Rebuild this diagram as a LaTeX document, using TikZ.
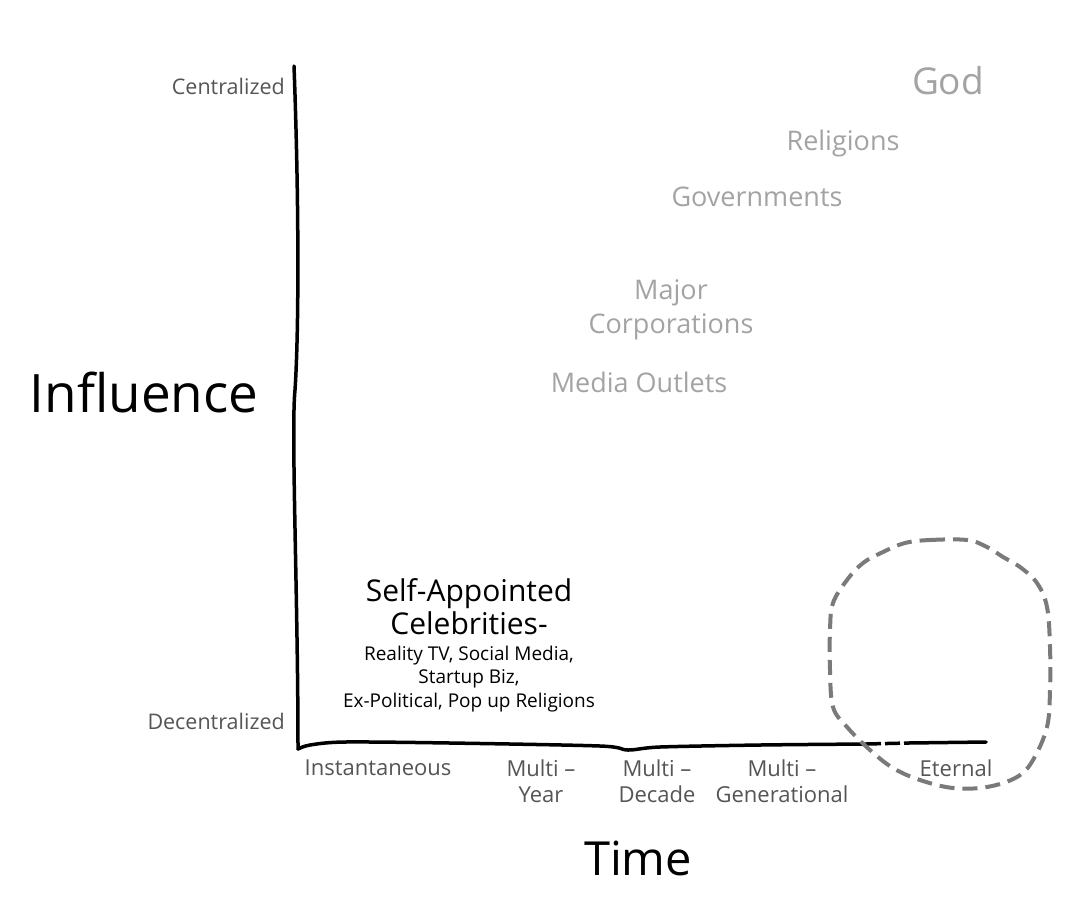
\documentclass[tikz,border=0pt]{standalone}
\usepackage{fontspec}
\setmainfont{Open Sans}
\usetikzlibrary{positioning}
\definecolor{inkgrey}{HTML}{555555}
\definecolor{fadegrey}{HTML}{A3A3A3}
\definecolor{ringgrey}{HTML}{7A7A7A}
\tikzset{
  bigword/.style={font=\fontsize{53}{58}\selectfont, text=black},
  endlbl/.style={font=\fontsize{21.5}{24}\selectfont, text=inkgrey, anchor=east, inner sep=0},
  ticklbl/.style={font=\fontsize{22}{26}\selectfont, text=inkgrey, align=center, anchor=north, inner sep=0},
  faded/.style={font=\fontsize{27}{34}\selectfont, text=fadegrey, align=center, inner sep=0},
}

\begin{document}
\begin{tikzpicture}[x=1pt,y=-1pt]
\useasboundingbox (0,0) rectangle (1089,903);

\coordinate (ytop) at (294,66);
\coordinate (origin) at (298,749);
\coordinate (gapl) at (866,744);
\coordinate (gapr) at (908,743);
\coordinate (xend) at (986,742);

\draw[line width=3.5, line cap=round] (ytop) .. controls (299,200) and (299,330) .. (295,390)
  .. controls (291,430) and (298,600) .. (origin);
\draw[line width=3.5, line cap=round] plot[smooth] coordinates {(origin) (310,745) (345,742) (450,743) (600,746) (628,750) (660,747) (760,745) (gapl)};
\draw[line width=3.5, dash pattern=on 15 off 4] (gapl) -- (gapr);
\draw[line width=3.5, line cap=round] (gapr) -- (xend);

\draw[ringgrey, line width=4, dash pattern=on 15 off 8] plot[smooth cycle, tension=0.6] coordinates {
  (905,543) (930,540) (967,540) (987,547) (1003,557) (1020,567) (1037,583) (1047,607)
  (1050,647) (1050,690) (1047,727) (1033,760) (1017,777) (987,787) (953,788) (920,780)
  (893,768) (870,750) (847,727) (833,707) (830,670) (830,630) (833,603) (847,580) (863,563) (883,552)};

\node[endlbl] (cent) at (285,86) {Centralized};
\node[endlbl] (decent) at (285,721) {Decentralized};
\node[bigword] (infl) at (144,392) {Influence};
\node[bigword, font=\fontsize{47}{52}\selectfont] (time) at (638,858) {Time};

\node[ticklbl] (instant) at (378,760) {Instantaneous};
\node[ticklbl] (year) at (541,760) {Multi –\\Year};
\node[ticklbl] (decade) at (657,760) {Multi –\\Decade};
\node[ticklbl] (gener) at (782,760) {Multi –\\Generational};
\node[ticklbl] (eternal) at (956,760) {Eternal};

\node[faded, font=\fontsize{37}{40}\selectfont] (god) at (948,81) {God};
\node[faded] (relig) at (843,143) {Religions};
\node[faded] (govt) at (757,197) {Governments};
\node[faded] (corp) at (671,310) {Major\\Corporations};
\node[faded] (media) at (639,382) {Media Outlets};

\node[font=\fontsize{30}{33}\selectfont, align=center, inner sep=0] (celeb) at (469,607) {Self-Appointed\\Celebrities-};
\node[font=\fontsize{19}{23.5}\selectfont, align=center, inner sep=0] (kinds) at (469,679) {Reality TV, Social Media,\\Startup Biz,\\Ex-Political, Pop up Religions};
\end{tikzpicture}
\end{document}
